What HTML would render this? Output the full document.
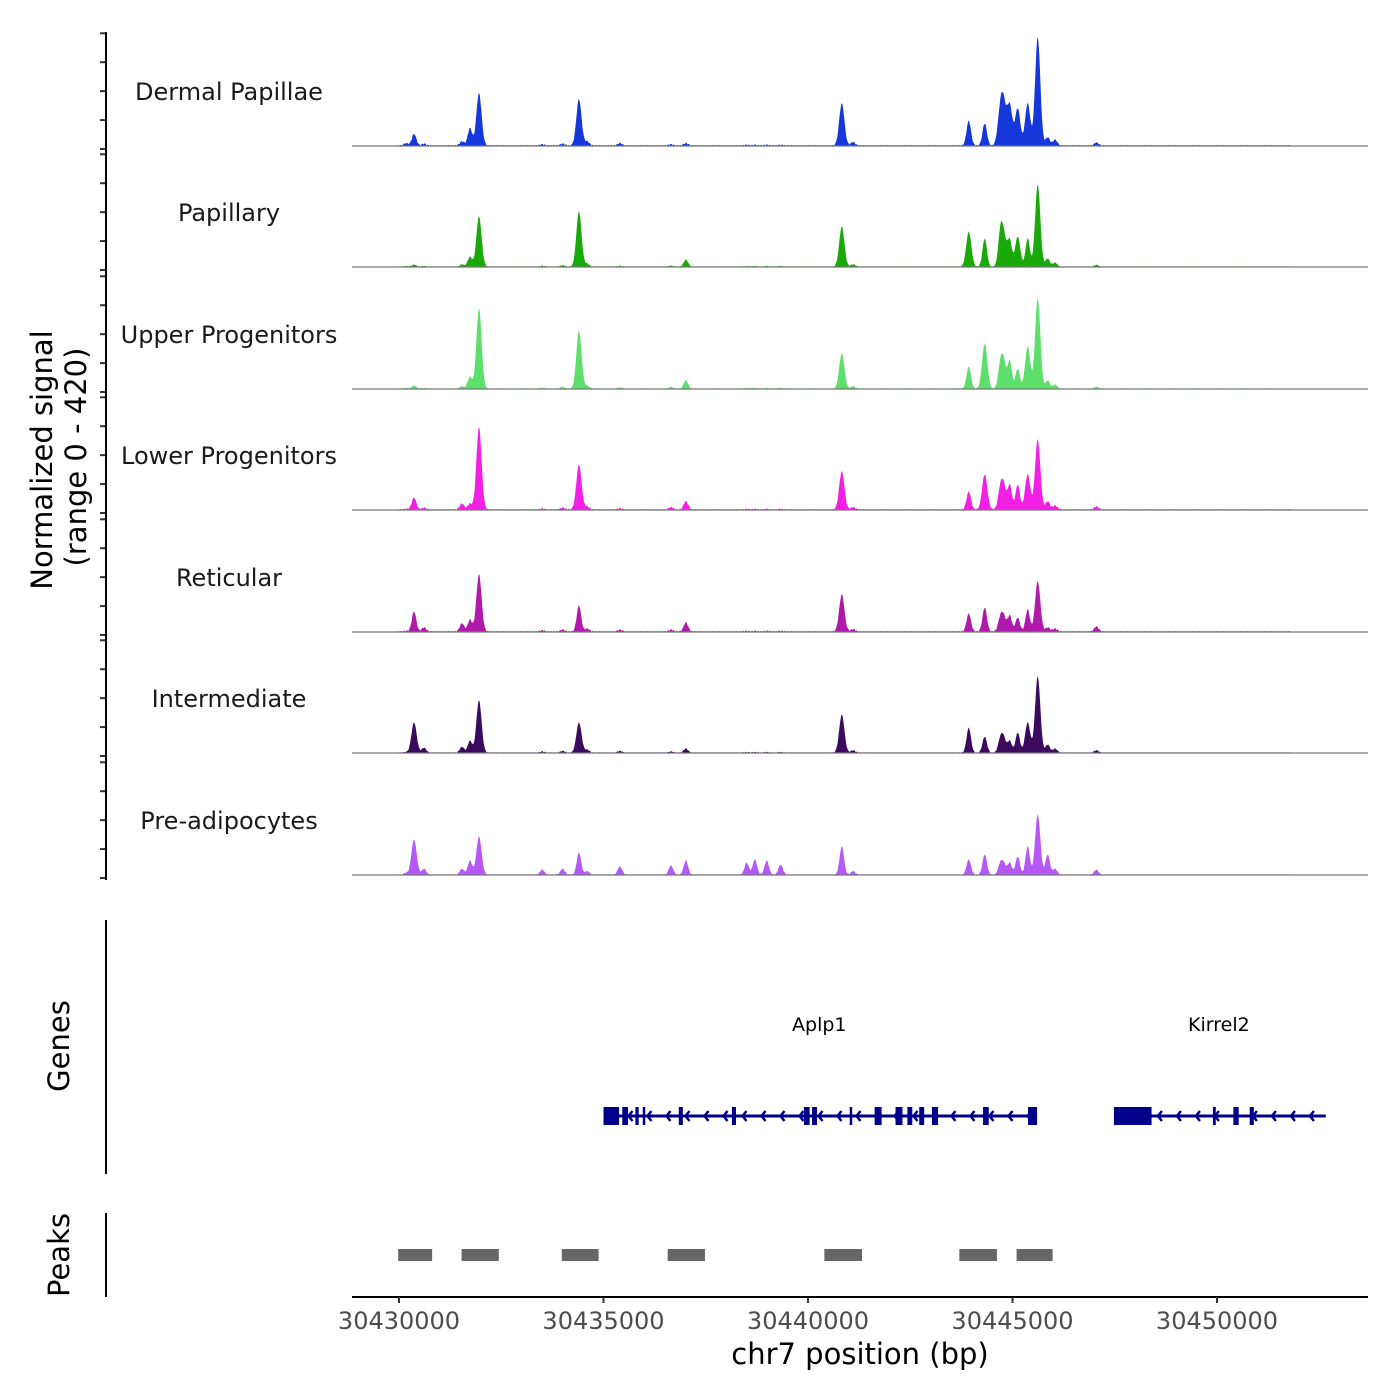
<!DOCTYPE html>
<html><head><meta charset="utf-8">
<style>
html,body{margin:0;padding:0;background:#fff;}
svg{display:block;font-family:"DejaVu Sans","Liberation Sans",sans-serif;}
</style></head>
<body>
<svg id="chart" width="1400" height="1400" viewBox="0 0 1400 1400" xmlns="http://www.w3.org/2000/svg">
  <g id="tracks"></g>
  <g id="yaxis"></g>
  <text transform="translate(52,460) rotate(-90)" text-anchor="middle" font-size="29" fill="#000">Normalized signal</text>
  <text transform="translate(86,457) rotate(-90)" text-anchor="middle" font-size="29" fill="#000">(range 0 - 420)</text>
  <line x1="106" y1="920" x2="106" y2="1174" stroke="#000" stroke-width="2"/>
  <text transform="translate(69,1046) rotate(-90)" text-anchor="middle" font-size="29">Genes</text>
  <line x1="106" y1="1213" x2="106" y2="1297" stroke="#000" stroke-width="2"/>
  <text transform="translate(69,1255) rotate(-90)" text-anchor="middle" font-size="29">Peaks</text>
  <g id="genes"></g>
  <g id="peaks"></g>
  <g id="xaxis"></g>
  <text x="860" y="1364" text-anchor="middle" font-size="29">chr7 position (bp)</text>
</svg>
<script>
const NS="http://www.w3.org/2000/svg";
// ---- data ----
const trackNames=["Dermal Papillae","Papillary","Upper Progenitors","Lower Progenitors","Reticular","Intermediate","Pre-adipocytes"];
const trackColors=["#1637d9","#19aa0a","#5ce06b","#f21fe5","#b01aab","#3b0a5f","#b658f8"];
const xTicks=[30430000,30435000,30440000,30445000,30450000];
const yTicks=[0,100,200,300,400];
const peakPos=[30430170,30430367,30430610,30431540,30431735,30431955,30433500,30434000,30434399,30434600,30435400,30436650,30437014,30438500,30438700,30438990,30439330,30440826,30441100,30443930,30444320,30444700,30444785,30444931,30445127,30445371,30445616,30445860,30446040,30447050];
const dpVals   =[8,40,6,14,60,180,4,6,160,14,8,4,8,2,2,2,2,145,12,85,76,110,120,138,128,145,373,28,20,10];
const papVals  =[2,7,2,8,34,173,3,5,190,10,3,3,24,2,2,2,2,138,8,120,97,100,104,90,104,97,283,28,14,6];
const upVals   =[2,10,2,8,41,276,3,6,200,10,4,5,28,2,2,2,2,121,8,76,155,80,86,97,69,145,311,28,14,6];
const lowVals  =[2,41,6,20,20,283,3,6,155,10,4,8,28,2,2,2,2,131,8,62,121,70,76,86,86,121,242,28,14,10];
const retVals  =[2,69,14,28,41,197,4,6,90,10,6,6,31,2,2,2,2,128,8,62,83,45,48,55,48,76,173,14,10,17];
const intVals  =[2,104,17,20,41,180,4,6,104,10,6,4,14,2,2,2,2,131,8,86,55,45,48,41,69,104,263,28,14,8];
const preVals  =[6,121,20,20,48,131,17,20,76,12,28,31,48,41,52,48,34,97,12,52,69,35,35,41,62,97,207,69,20,17];
const trackVals=[dpVals,papVals,upVals,lowVals,retVals,intVals,preVals];
const noiseLevel=[3,2,2,3,3,2,2];
const peakRegions=[[30429980,30430810],[30431530,30432440],[30433980,30434880],[30436570,30437480],[30440400,30441320],[30443700,30444620],[30445100,30445980]];
const genes=[{name:"Aplp1",start:30435000,end:30445600,strand:-1},{name:"Kirrel2",start:30447480,end:30452660,strand:-1}];
const aplp1Exons=[[30435000,30435380],[30435460,30435600],[30435780,30435860],[30435960,30436020],[30436840,30436940],[30438140,30438240],[30439900,30440040],[30440100,30440220],[30441020,30441060],[30441630,30441800],[30442140,30442310],[30442430,30442550],[30442720,30442840],[30443030,30443180],[30444280,30444420],[30445380,30445600]];
const kirrel2Exons=[[30447480,30448400],[30449900,30449970],[30450400,30450530],[30450800,30450900]];
const geneExons=[aplp1Exons,kirrel2Exons];
// ---- scales ----
const X0=352,X1=1368;
function xs(bp){return 399+(bp-30430000)*(1217-399)/20000;}
const baselines=[146,267,389,510,632,753,875];
const trackH=121.5;
function ys(v,i){return baselines[i]-v*trackH/420;}
function el(tag,attrs,parent){const e=document.createElementNS(NS,tag);for(const k in attrs)e.setAttribute(k,attrs[k]);parent.appendChild(e);return e;}
// ---- tracks ----
const gT=document.getElementById('tracks');
const gY=document.getElementById('yaxis');
trackNames.forEach((name,i)=>{
  const vals=trackVals[i];
  const start=xs(30429970),end=xs(30452600);
  let d="M"+start.toFixed(1)+","+baselines[i];
  for(let x=start;x<=end;x+=0.5){
    let v=0;
    for(let k=0;k<peakPos.length;k++){
      const dx=x-xs(peakPos[k]);
      const w=vals[k]>100?2.6:2.2;
      v+=vals[k]*Math.exp(-(dx*dx)/(2*w*w));
    }
    if(Math.floor(x)%3!==0 && x<xs(30451800)) v+=noiseLevel[i];
    v=Math.min(v,420);
    d+=" L"+x.toFixed(1)+","+ys(v,i).toFixed(2);
  }
  d+=" L"+end.toFixed(1)+","+baselines[i]+" Z";
  const p=el('path',{d:d,fill:trackColors[i],stroke:"none"},gT);
  
  
  const bl=el('line',{x1:X0,x2:X1,y1:baselines[i],y2:baselines[i],stroke:"#777","stroke-width":1.2},gT);
  
  
  const t=el('text',{x:229,y:baselines[i]-46,"text-anchor":"middle","font-size":24,fill:"#1a1a1a"},gT);
  t.textContent=name;
  
  
  yTicks.forEach(v=>{
    const tk=el('line',{x1:100,x2:106,y1:ys(v,i)+3,y2:ys(v,i)+3,stroke:"#333","stroke-width":2},gY);
    
    
  });
});
const ya=el('line',{x1:106,x2:106,y1:32,y2:880,stroke:"#000","stroke-width":2},gY);


// ---- genes ----
const gG=document.getElementById('genes');
const gy=1116;
genes.forEach((g,gi)=>{
  const x1=xs(g.start),x2=xs(g.end);
  const ln=el('line',{x1:x1,x2:x2,y1:gy,y2:gy,stroke:"#00008b","stroke-width":3},gG);
  
  
  for(let x=x1+25;x<x2;x+=19){
    const ch=el('polyline',{points:(x+4)+","+(gy-5)+" "+x+","+gy+" "+(x+4)+","+(gy+5),fill:"none",stroke:"#00008b","stroke-width":2.5},gG);
    
    
  }
  geneExons[gi].forEach(e=>{
    const a=xs(e[0]),b=xs(e[1]);
    const r=el('rect',{x:a,y:gy-9,width:Math.max(b-a,2.5),height:18,fill:"#00008b"},gG);
    
    
  });
  const lab=el('text',{x:(x1+x2)/2-1,y:1031,"text-anchor":"middle","font-size":19,fill:"#000"},gG);
  lab.textContent=g.name;
  
  
});
// ---- peaks ----
const gP=document.getElementById('peaks');
peakRegions.forEach(r=>{
  const rc=el('rect',{x:xs(r[0]),y:1249,width:xs(r[1])-xs(r[0]),height:12,fill:"#666"},gP);
  
  
});
// ---- x axis ----
const gX=document.getElementById('xaxis');
const xl=el('line',{x1:X0,x2:X1,y1:1297,y2:1297,stroke:"#000","stroke-width":2},gX);


xTicks.forEach(v=>{
  const tk=el('line',{x1:xs(v),x2:xs(v),y1:1297,y2:1303,stroke:"#333","stroke-width":2},gX);
  
  
  const tl=el('text',{x:xs(v),y:1329,"text-anchor":"middle","font-size":24,fill:"#4d4d4d"},gX);
  tl.textContent=v;
  
  
});
</script>
</body></html>
